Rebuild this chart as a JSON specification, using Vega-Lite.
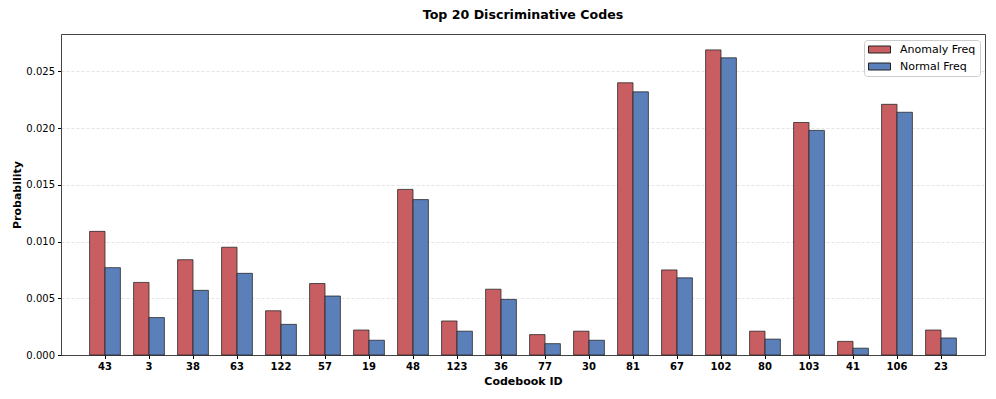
{
  "$schema": "https://vega.github.io/schema/vega-lite/v6.json",
  "width": 924,
  "height": 321,
  "autosize": {"type": "none"},
  "padding": {"left": 61, "top": 34, "right": 11, "bottom": 44},
  "background": "white",
  "title": {
    "text": "Top 20 Discriminative Codes",
    "font": "DejaVu Sans",
    "fontSize": 12.6,
    "fontWeight": "bold",
    "color": "black",
    "anchor": "middle",
    "offset": 12
  },
  "config": {
    "view": {"stroke": "#444", "strokeWidth": 1},
    "font": "DejaVu Sans"
  },
  "data": {
    "values": [
      {"code": "43", "series": "Anomaly Freq", "value": 0.0109},
      {"code": "43", "series": "Normal Freq", "value": 0.0077},
      {"code": "3", "series": "Anomaly Freq", "value": 0.0064},
      {"code": "3", "series": "Normal Freq", "value": 0.0033},
      {"code": "38", "series": "Anomaly Freq", "value": 0.0084},
      {"code": "38", "series": "Normal Freq", "value": 0.0057},
      {"code": "63", "series": "Anomaly Freq", "value": 0.0095},
      {"code": "63", "series": "Normal Freq", "value": 0.0072},
      {"code": "122", "series": "Anomaly Freq", "value": 0.0039},
      {"code": "122", "series": "Normal Freq", "value": 0.0027},
      {"code": "57", "series": "Anomaly Freq", "value": 0.0063},
      {"code": "57", "series": "Normal Freq", "value": 0.0052},
      {"code": "19", "series": "Anomaly Freq", "value": 0.0022},
      {"code": "19", "series": "Normal Freq", "value": 0.0013},
      {"code": "48", "series": "Anomaly Freq", "value": 0.0146},
      {"code": "48", "series": "Normal Freq", "value": 0.0137},
      {"code": "123", "series": "Anomaly Freq", "value": 0.0030},
      {"code": "123", "series": "Normal Freq", "value": 0.0021},
      {"code": "36", "series": "Anomaly Freq", "value": 0.0058},
      {"code": "36", "series": "Normal Freq", "value": 0.0049},
      {"code": "77", "series": "Anomaly Freq", "value": 0.0018},
      {"code": "77", "series": "Normal Freq", "value": 0.0010},
      {"code": "30", "series": "Anomaly Freq", "value": 0.0021},
      {"code": "30", "series": "Normal Freq", "value": 0.0013},
      {"code": "81", "series": "Anomaly Freq", "value": 0.0240},
      {"code": "81", "series": "Normal Freq", "value": 0.0232},
      {"code": "67", "series": "Anomaly Freq", "value": 0.0075},
      {"code": "67", "series": "Normal Freq", "value": 0.0068},
      {"code": "102", "series": "Anomaly Freq", "value": 0.0269},
      {"code": "102", "series": "Normal Freq", "value": 0.0262},
      {"code": "80", "series": "Anomaly Freq", "value": 0.0021},
      {"code": "80", "series": "Normal Freq", "value": 0.0014},
      {"code": "103", "series": "Anomaly Freq", "value": 0.0205},
      {"code": "103", "series": "Normal Freq", "value": 0.0198},
      {"code": "41", "series": "Anomaly Freq", "value": 0.0012},
      {"code": "41", "series": "Normal Freq", "value": 0.0006},
      {"code": "106", "series": "Anomaly Freq", "value": 0.0221},
      {"code": "106", "series": "Normal Freq", "value": 0.0214},
      {"code": "23", "series": "Anomaly Freq", "value": 0.0022},
      {"code": "23", "series": "Normal Freq", "value": 0.0015}
    ]
  },
  "mark": {"type": "bar", "stroke": "#222", "strokeWidth": 1, "strokeOpacity": 0.75},
  "encoding": {
    "x": {
      "field": "code",
      "type": "nominal",
      "sort": null,
      "scale": {"paddingInner": 0.3, "paddingOuter": 0.65},
      "axis": {
        "title": "Codebook ID",
        "titleFont": "DejaVu Sans",
        "titleFontSize": 11,
        "titleFontWeight": "bold",
        "titleColor": "black",
        "titlePadding": 4,
        "labelAngle": 0,
        "labelFont": "DejaVu Sans",
        "labelFontSize": 10,
        "labelFontWeight": "bold",
        "labelColor": "black",
        "labelPadding": 3,
        "tickSize": 3.5,
        "tickColor": "black",
        "domain": false,
        "grid": false
      }
    },
    "xOffset": {
      "field": "series",
      "type": "nominal",
      "sort": ["Anomaly Freq", "Normal Freq"],
      "scale": {"paddingInner": 0, "paddingOuter": 0}
    },
    "y": {
      "field": "value",
      "type": "quantitative",
      "scale": {"domain": [0, 0.0283], "nice": false, "zero": true},
      "axis": {
        "title": "Probability",
        "titleFont": "DejaVu Sans",
        "titleFontSize": 11,
        "titleFontWeight": "bold",
        "titleColor": "black",
        "titlePadding": 3,
        "values": [0, 0.005, 0.01, 0.015, 0.02, 0.025],
        "format": ".3f",
        "labelFont": "DejaVu Sans",
        "labelFontSize": 10,
        "labelColor": "black",
        "labelPadding": 3,
        "tickSize": 3.5,
        "tickColor": "black",
        "domain": false,
        "grid": true,
        "gridColor": "#dddddd",
        "gridDash": [3, 2],
        "gridOpacity": {"condition": {"test": "datum.value === 0", "value": 0}, "value": 0.8}
      }
    },
    "color": {
      "field": "series",
      "type": "nominal",
      "sort": ["Anomaly Freq", "Normal Freq"],
      "scale": {"domain": ["Anomaly Freq", "Normal Freq"], "range": ["#c85e62", "#5b7fb8"]},
      "legend": {
        "title": null,
        "orient": "none",
        "legendX": 803,
        "legendY": 6,
        "padding": 4,
        "strokeColor": "#cccccc",
        "fillColor": "white",
        "cornerRadius": 3,
        "symbolType": "M-1,-0.7H3.4V0.7H-1Z",
        "symbolSize": 100,
        "symbolStrokeColor": "#222",
        "symbolStrokeWidth": 1,
        "symbolOpacity": 1,
        "labelFont": "DejaVu Sans",
        "labelFontSize": 11,
        "labelColor": "black",
        "labelOffset": 21,
        "rowPadding": 5
      }
    }
  }
}
